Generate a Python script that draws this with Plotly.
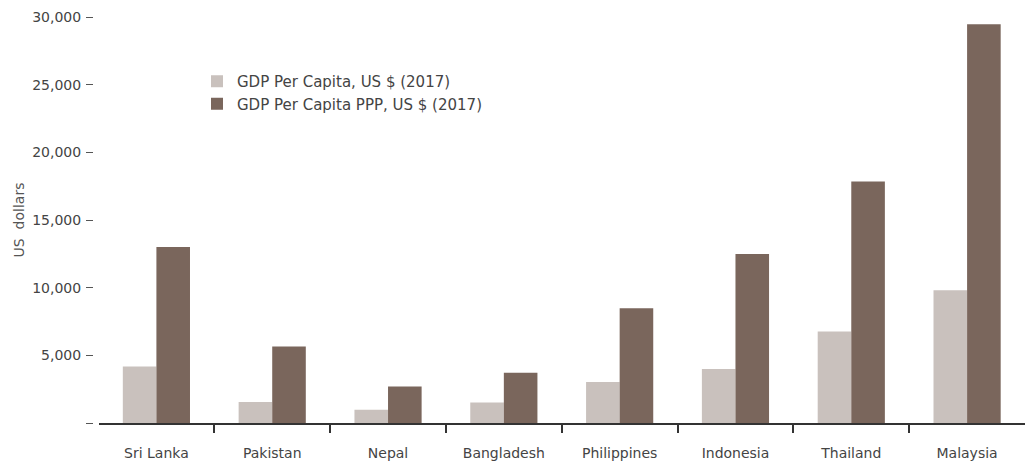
import plotly.graph_objects as go

countries = ["Sri Lanka", "Pakistan", "Nepal", "Bangladesh", "Philippines",
             "Indonesia", "Thailand", "Malaysia"]
gdp_pc = [4180, 1550, 980, 1520, 3030, 3990, 6770, 9800]
gdp_ppp = [13000, 5660, 2700, 3720, 8470, 12480, 17840, 29470]
y_ticks = [0, 5000, 10000, 15000, 20000, 25000, 30000]
y_ticktext = ["", "5,000", "10,000", "15,000", "20,000", "25,000", "30,000"]
boundaries = [0.5, 1.5, 2.5, 3.5, 4.5, 5.5, 6.5]

FONT = "DejaVu Sans"
TXT = "#444444"

fig = go.Figure()
fig.add_trace(go.Bar(x=countries, y=gdp_pc, name="GDP Per Capita, US $ (2017)",
                     marker=dict(color="#c9c1bd", line=dict(width=0))))
fig.add_trace(go.Bar(x=countries, y=gdp_ppp, name="GDP Per Capita PPP, US $ (2017)",
                     marker=dict(color="#7a665c", line=dict(width=0))))

W, H = 1025, 463
L, R, T, B = 93, 0, 17, 40
pw = W - L - R
ph = H - T - B

fig.update_layout(
    width=W, height=H,
    margin=dict(l=L, r=R, t=T, b=B, pad=0, autoexpand=False),
    paper_bgcolor="white", plot_bgcolor="white",
    barmode="group", bargap=0.42, bargroupgap=0,
    font=dict(family=FONT, size=14, color=TXT),
    showlegend=True,
    legend=dict(x=(197 - L) / pw, y=1 - (65 - T) / ph, xanchor="left", yanchor="top",
                bgcolor="rgba(0,0,0,0)", font=dict(family=FONT, size=15, color=TXT),
                tracegroupgap=0, itemclick=False),
    xaxis=dict(
        domain=[5.5 / pw, 1],
        type="category",
        range=[-0.5, 7.5],
        automargin=False,
        showline=True, linecolor="#333333", linewidth=1.5,
        ticks="",
        minor=dict(ticks="outside", tickmode="array", tickvals=boundaries,
                   ticklen=8, tickcolor="#333333", tickwidth=1.5),
        showgrid=False, zeroline=False,
        tickfont=dict(family=FONT, size=14, color=TXT),
        ticklabelstandoff=16,
    ),
    yaxis=dict(
        anchor="free", position=0,
        range=[0, 30000],
        automargin=False,
        tickvals=y_ticks, ticktext=y_ticktext,
        ticks="outside", ticklen=7, tickcolor="#555555", tickwidth=1,
        showline=False, showgrid=False, zeroline=False,
        tickfont=dict(family=FONT, size=14, color=TXT),
        ticklabelstandoff=2,
        title=dict(text="US  dollars", font=dict(family=FONT, size=14, color="#555555"), standoff=3),
    ),
)

fig.write_html("out.html", config={"displayModeBar": False},
               post_script="document.body.style.margin='0';")
